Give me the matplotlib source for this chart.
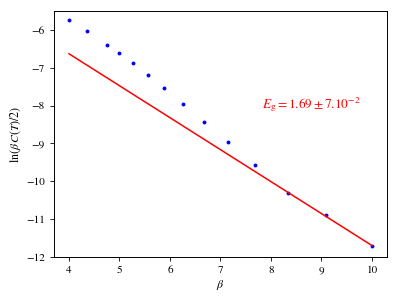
import matplotlib
matplotlib.use("Agg")
import matplotlib.pyplot as plt

plt.rcParams['font.family'] = ['STIXGeneral', 'DejaVu Serif']
plt.rcParams['mathtext.fontset'] = 'stix'

beta = [4.0, 4.35, 4.76, 5.0, 5.26, 5.56, 5.88, 6.25, 6.67, 7.14, 7.69, 8.33, 9.09, 10.0]
ln_bc = [-5.74, -6.03, -6.39, -6.62, -6.87, -7.19, -7.53, -7.95, -8.44, -8.97, -9.56, -10.30, -10.89, -11.71]
fit_x = [4.0, 10.0]
fit_y = [-6.63, -11.70]
label = r"$E_{\rm g} = 1.69 \pm 7.10^{-2}$"

fig = plt.figure(figsize=(3.99, 2.99), dpi=100)
ax = fig.add_subplot(111)
fig.subplots_adjust(left=0.135, right=0.970, top=0.963, bottom=0.141)

ax.plot(beta, ln_bc, 'o', color='blue', markersize=2.8, markeredgewidth=0)
ax.plot(fit_x, fit_y, '-', color='red', linewidth=1.1)
ax.text(7.82, -7.98, label, color='red', fontsize=9.5, va='center', ha='left')

ax.set_xlabel(r"$\beta$", fontsize=8.5, labelpad=1.5)
ax.set_ylabel(r"$\ln(\beta\, C(T)/2)$", fontsize=8.5, labelpad=2)
ax.set_xlim(3.7, 10.3)
ax.set_ylim(-12.0, -5.5)
ax.set_xticks([4, 5, 6, 7, 8, 9, 10])
ax.set_yticks([-12, -11, -10, -9, -8, -7, -6])
ax.tick_params(labelsize=8, length=3, width=0.6)
for s in ax.spines.values():
    s.set_linewidth(0.7)

fig.savefig("out.png", dpi=100)
